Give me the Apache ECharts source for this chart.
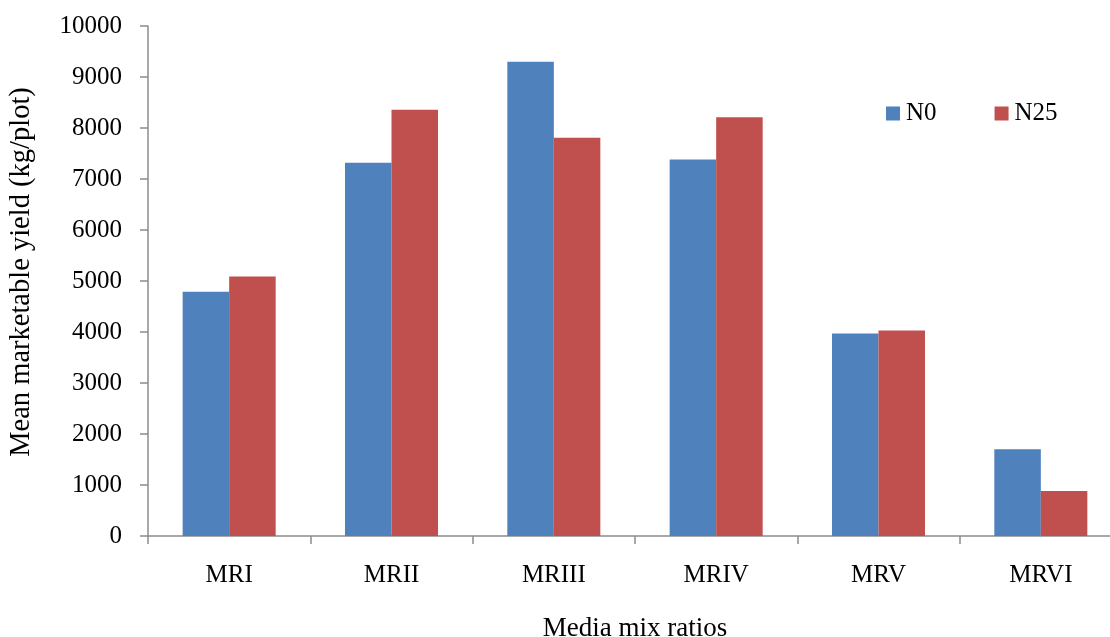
<!DOCTYPE html>
<html>
<head>
<meta charset="utf-8">
<script src="https://cdn.jsdelivr.net/npm/echarts@6/dist/echarts.min.js"></script>
<style>html,body{margin:0;padding:0;background:#fff;}#c{width:1110px;height:637px;}</style>
</head>
<body>
<div id="c"></div>
<script>
const categories = ['MRI', 'MRII', 'MRIII', 'MRIV', 'MRV', 'MRVI'];
const n0 = [4790, 7320, 9300, 7380, 3970, 1700];
const n25 = [5090, 8360, 7810, 8210, 4030, 880];
const yTicks = { min: 0, max: 10000, interval: 1000 };

const font = 'Liberation Serif';
const chart = echarts.init(document.getElementById('c'));
chart.setOption({
  animation: false,
  textStyle: { fontFamily: font },
  grid: { left: 148, right: -12, top: 26, bottom: 101, containLabel: false, outerBoundsMode: 'none' },
  legend: {
    left: 881, top: 96, itemWidth: 14, itemHeight: 14, itemGap: 58,
    icon: 'rect',
    textStyle: { fontFamily: font, fontSize: 25, color: '#000', padding: [0, 0, 0, 1] },
    data: ['N0', 'N25']
  },
  xAxis: {
    type: 'category', data: categories,
    name: 'Media mix ratios', nameLocation: 'middle', nameGap: 79,
    nameTextStyle: { fontFamily: font, fontSize: 27, color: '#000' },
    axisLine: { lineStyle: { color: '#8c8c8c', width: 1.5 } },
    axisTick: { show: true, alignWithLabel: false, length: 8, lineStyle: { color: '#8c8c8c', width: 1.5 } },
    axisLabel: { fontFamily: font, fontSize: 25, color: '#000', margin: 27 }
  },
  yAxis: {
    type: 'value', min: yTicks.min, max: yTicks.max, interval: yTicks.interval,
    name: 'Mean marketable yield (kg/plot)', nameLocation: 'middle', nameGap: 112,
    nameTextStyle: { fontFamily: font, fontSize: 28.5, color: '#000', padding: [0, 0, 0, 18] },
    splitLine: { show: false },
    axisLine: { show: true, lineStyle: { color: '#8c8c8c', width: 1.5 } },
    axisTick: { show: true, length: 8, lineStyle: { color: '#8c8c8c', width: 1.5 } },
    axisLabel: { fontFamily: font, fontSize: 25, color: '#000', margin: 26,
      formatter: function (v) { return String(v); } }
  },
  series: [
    { name: 'N0', type: 'bar', data: n0, barGap: '0%', barCategoryGap: '42.7%',
      itemStyle: { color: '#4F81BD' } },
    { name: 'N25', type: 'bar', data: n25, barGap: '0%', barCategoryGap: '42.7%',
      itemStyle: { color: '#C0504D' } }
  ]
});
</script>
</body>
</html>
